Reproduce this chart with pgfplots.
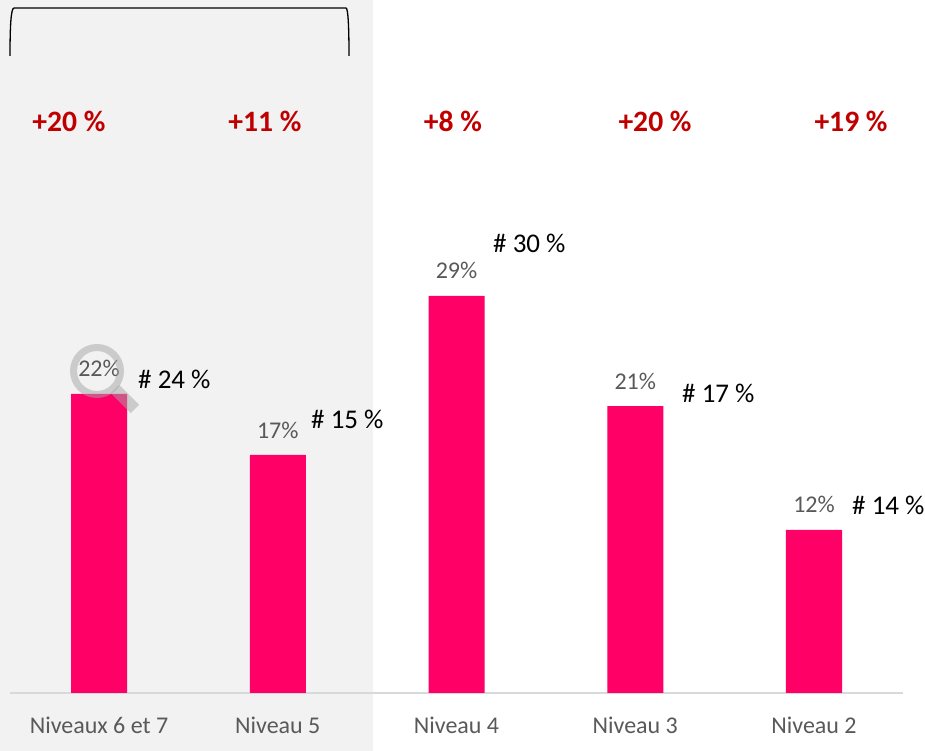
\documentclass[border=0pt]{standalone}
\usepackage{pgfplots}
\pgfplotsset{compat=1.18}
\usepackage{fontspec}
\setmainfont{Carlito}
\definecolor{barpink}{HTML}{FF0066}
\definecolor{panel}{HTML}{F2F2F2}
\definecolor{txt}{HTML}{595959}
\definecolor{redtxt}{HTML}{C00000}
\definecolor{axisgray}{HTML}{D9D9D9}
\definecolor{lens}{HTML}{A6A6A6}
\newcommand{\fsz}[1]{\fontsize{#1}{#1}\selectfont}
\begin{document}
\begin{tikzpicture}[x=1pt,y=1pt]
\path[use as bounding box] (0,0) rectangle (925,751);
\fill[panel] (0,0) rectangle (373,751);
\begin{axis}[
  at={(10pt,58pt)}, anchor=south west,
  scale only axis, width=893pt, height=693pt,
  xmin=-0.498, xmax=4.498, ymin=0, ymax=50.956,
  axis x line=bottom, axis y line=none,
  x axis line style={draw=axisgray, line width=1.6pt, -},
  xtick={0,1,2,3,4},
  xticklabels={Niveaux 6 et 7, Niveau 5, Niveau 4, Niveau 3, Niveau 2},
  major tick length=0pt,
  x tick label style={font=\fsz{24}, text=txt, anchor=center, yshift=-32pt},
  clip=false,
  ybar, bar width=56pt,
  point meta=explicit symbolic,
  nodes near coords,
  every node near coord/.append style={font=\fsz{24}, text=txt, anchor=center, yshift=25pt},
]
\addplot[ybar, bar shift=0pt, fill=barpink, draw=none] coordinates {
  (0,22.0) [22\%]
  (1,17.5) [17\%]
  (2,29.2) [29\%]
  (3,21.1) [21\%]
  (4,12.0) [12\%]
};
\end{axis}
% magnifier
\begin{scope}[opacity=0.5]
\draw[lens, line width=7pt] (97,380) circle (23.5);
\draw[lens, line width=12pt] (115,362) -- (135,342);
\end{scope}
% bracket
\draw[black, line width=1.3pt] (10,695) .. controls (10,725) and (11,743) .. (14,743) -- (346,743) .. controls (348,743) and (349,725) .. (349,695);
% growth
\foreach \x/\t in {69/+20,265/+11,453/+8,655/+20,851/+19}
  \node[font=\fsz{29.6}\bfseries, text=redtxt, anchor=center, inner sep=0pt] at (\x,630) {\t\ \%};
% shares
\foreach \x/\y/\t in {138/372/24,311/332/15,493/508/30,682/358/17,852/246/14}
  \node[font=\fsz{27}, text=black, anchor=west, inner sep=0pt] at (\x,\y) {\#\ \t\ \%};
\end{tikzpicture}
\end{document}
